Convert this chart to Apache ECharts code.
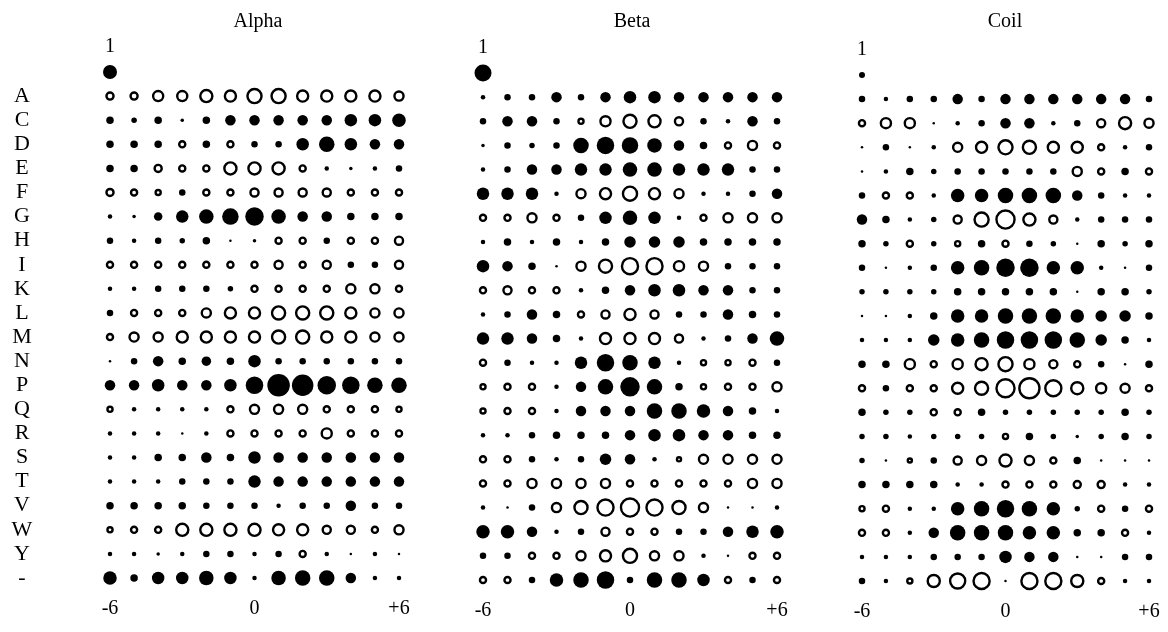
<!DOCTYPE html>
<html><head><meta charset="utf-8">
<script src="https://cdn.jsdelivr.net/npm/echarts@6/dist/echarts.min.js"></script>
<style>html,body{margin:0;padding:0;background:#fff}#c{width:1168px;height:632px}</style>
</head><body><div id="c"></div>
<script>
// Row labels (residues) and window positions
const residues = ['A','C','D','E','F','G','H','I','K','L','M','N','P','Q','R','S','T','V','W','Y','-'];
const positions = [-6,-5,-4,-3,-2,-1,0,1,2,3,4,5,6];
const panelNames = ['Alpha','Beta','Coil'];
// magnitude of the "1" key circle in each panel
const keyWeight = [12.5, 15.5, 4.5];
// weights: positive = filled, negative = open
const alpha = [
 [-8,-8,-11,-11,-13,-12,-15,-15,-12,-12,-12,-12,-10],
 [6,4,6,2,6,9,9,9,9,9,11,11,12],
 [6,6,6,-7,6,-7,5,5,11,14,11,9,9],
 [6,6,-8,-7,-7,-13,-13,-13,-7,3,2,3,5],
 [-8,-7,-6,5,-7,-7,-9,-9,-9,-9,-7,-7,-7],
 [3,2,7,11,13,15,17,13,9,9,6,6,6],
 [5,3,5,4,6,1,2,-7,-7,5,-7,-7,-9],
 [-7,-7,-7,-7,-7,-7,-7,-9,-7,-9,5,5,-9],
 [3,3,5,5,5,4,-7,-7,-7,-7,-10,-10,-7],
 [5,-7,-7,-7,-10,-12,-12,-14,-14,-14,-12,-10,-10],
 [-7,-10,-10,-12,-12,-12,-12,-14,-14,-12,-12,-10,-10],
 [1,5,9,6,8,6,11,5,5,5,5,5,5],
 [9,9,11,9,9,11,16,21,20,17,16,14,14],
 [-6,3,3,3,3,-7,-10,-10,-10,-7,-7,-7,-6],
 [3,3,3,1,3,-7,-7,-7,-7,-11,-7,-7,-7],
 [3,3,6,6,9,6,11,9,9,9,9,9,9],
 [3,3,3,5,5,5,11,9,9,9,9,9,9],
 [6,6,6,6,5,5,5,3,5,5,9,5,5],
 [-6,-7,-7,-13,-13,-13,-13,-12,-12,-9,-9,-7,-10],
 [3,3,2,3,5,5,3,5,-7,3,1,3,1],
 [12,6,11,11,13,11,3,13,14,14,9,3,3]
];
const beta = [
 [3,5,5,9,5,9,11,11,9,9,9,9,9],
 [5,9,9,5,-6,-11,-14,-13,-9,5,3,9,5],
 [2,5,4,5,14,16,15,13,9,6,-7,-10,-7],
 [3,5,9,9,11,11,13,13,11,11,11,5,5],
 [11,11,11,3,-10,-12,-15,-12,-10,3,3,5,9],
 [-7,-7,-10,-7,5,11,13,11,3,-7,-10,-10,-10],
 [3,6,3,6,3,6,10,10,10,6,6,6,6],
 [11,9,6,1,-10,-14,-17,-17,-11,-10,5,5,5],
 [-7,-9,-7,-7,3,6,9,11,11,9,9,5,5],
 [3,5,9,6,-7,-9,-12,-9,5,5,9,6,5],
 [11,11,9,6,3,-12,-12,-12,-9,3,5,9,13],
 [-7,5,3,3,11,16,14,11,3,-6,-6,-7,5],
 [-6,-7,-7,3,9,14,18,14,6,-6,-7,-7,-10],
 [-6,-7,-7,3,9,9,9,14,14,12,9,6,3],
 [3,3,5,6,6,6,9,11,11,9,9,6,6],
 [-7,-7,5,3,5,10,9,3,-5,-10,-10,-10,-10],
 [-7,-7,-10,-10,-10,-10,-7,-7,-7,-7,-7,-10,-10],
 [3,1,5,-10,-14,-17,-19,-17,-14,-10,1,1,3],
 [12,12,9,3,5,-9,-7,-7,5,5,9,11,12],
 [5,5,-7,-7,-10,-12,-15,-10,-10,3,1,-7,-7],
 [-7,-7,5,12,14,16,5,14,14,11,-7,5,-7]
];
const coil = [
 [5,3,5,5,9,5,9,9,9,9,9,9,5],
 [-7,-11,-11,1,3,5,9,9,3,5,-9,-13,-10],
 [1,5,1,3,-10,-12,-15,-14,-12,-12,-7,3,5],
 [1,3,6,4,5,5,5,5,5,-10,-7,6,-7],
 [5,-7,-7,3,12,12,14,14,14,9,5,3,3],
 [9,6,3,4,-9,-15,-19,-13,-9,3,5,5,5],
 [6,4,-7,4,-6,6,-7,5,4,1,6,4,6],
 [5,1,3,5,12,14,17,17,12,12,3,1,5],
 [4,4,4,4,6,6,6,6,6,1,6,6,4],
 [1,1,3,6,12,12,14,14,14,12,10,10,6],
 [3,3,3,10,12,14,16,16,16,14,10,6,3],
 [6,6,-11,-7,-11,-13,-15,-11,-9,-7,5,1,6],
 [-7,5,-7,-7,-12,-14,-19,-21,-17,-13,-11,-10,-7],
 [6,4,4,-7,-7,6,4,4,4,4,4,6,4],
 [4,4,3,4,4,4,-6,6,4,2,4,6,4],
 [4,1,-5,5,-9,-10,-13,-10,-7,6,1,1,1],
 [6,6,6,6,3,3,-7,-7,-7,-8,-8,3,3],
 [-6,-7,3,3,12,14,16,14,12,4,-7,5,-7],
 [-7,-7,3,9,14,14,14,12,12,6,6,-7,3],
 [3,3,3,5,5,5,11,9,9,1,1,5,5],
 [5,3,-6,-13,-16,-17,1,-17,-17,-13,-7,3,3]
];

const panels = [alpha, beta, coil];
const FONT = '"Liberation Serif", "DejaVu Serif", serif';
const STROKE = 2.4;
const BASE = 1.5;   // minimum dot size
const SCALE = 1.0;  // px per weight unit
const size = w => BASE + Math.abs(w) * SCALE;
const grids = [
  {left:110, top:72, width:289, height:506},
  {left:483, top:73, width:294, height:507},
  {left:862, top:75, width:287, height:506}
];
const titleX = [258, 632, 1005];

const option = {
  animation:false,
  backgroundColor:'#fff',
  grid: grids,
  xAxis: [], yAxis: [], series: [],
  graphic: panelNames.map((n,i)=>({type:'text', x:titleX[i], y:22,
     style:{text:n, align:'center', verticalAlign:'middle', fontSize:20, fontFamily:FONT, fill:'#000'}}))
};

panels.forEach((M, p) => {
  option.xAxis.push({gridIndex:p, type:'value', min:-6, max:6, interval:6,
    axisLine:{show:false}, axisTick:{show:false}, splitLine:{show:false},
    axisLabel:{margin:21, fontSize:20, fontFamily:FONT, color:'#000',
      formatter:v=> v>0 ? '+'+v : String(v)}});
  option.yAxis.push({gridIndex:p, type:'value', min:-1, max:20, interval:1, inverse:true,
    axisLine:{show:false}, axisTick:{show:false}, splitLine:{show:false},
    axisLabel:{show:p===0, margin:88, align:'center', fontSize:22, fontFamily:FONT, color:'#000',
      formatter:v=> (v>=0 && v<residues.length) ? residues[v] : ''}});
  const filled = [], open = [];
  M.forEach((row, r) => row.forEach((w, c) => {
    (w >= 0 ? filled : open).push([positions[c], r, w]);
  }));
  option.series.push({type:'scatter', xAxisIndex:p, yAxisIndex:p, data:filled,
    symbol:'circle', symbolSize:v=>size(v[2]), itemStyle:{color:'#000', opacity:1}, silent:true});
  option.series.push({type:'scatter', xAxisIndex:p, yAxisIndex:p, data:open,
    symbol:'circle', symbolSize:v=>Math.max(size(v[2])-STROKE,1.5),
    itemStyle:{color:'#fff', borderColor:'#000', borderWidth:STROKE, opacity:1}, silent:true});
  option.series.push({type:'scatter', xAxisIndex:p, yAxisIndex:p,
    data:[[positions[0], -1, keyWeight[p]]],
    symbol:'circle', symbolSize:v=>size(v[2]), itemStyle:{color:'#000', opacity:1}, silent:true,
    label:{show:true, formatter:'1', position:'inside', offset:[0,-25], fontSize:20, fontFamily:FONT, color:'#000'}});
});

const chart = echarts.init(document.getElementById('c'), null, {renderer:'canvas'});
chart.setOption(option);
</script></body></html>
